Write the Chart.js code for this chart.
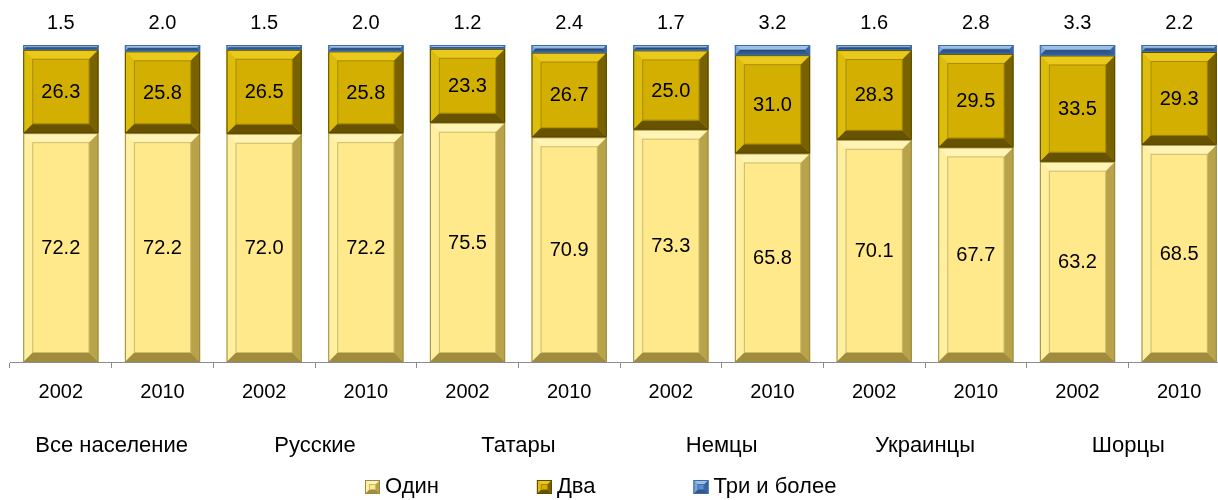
<!DOCTYPE html>
<html>
<head>
<meta charset="utf-8">
<script src="https://cdn.jsdelivr.net/npm/chart.js@4"></script>
<style>
  html, body { margin: 0; padding: 0; background: #fff; overflow: hidden; }
  #wrap { width: 1232px; height: 500px; }
</style>
</head>
<body>
<div id="wrap"><canvas id="chart"></canvas></div>
<script>
// годы переписи и группы населения
const years = ['2002', '2010', '2002', '2010', '2002', '2010', '2002', '2010', '2002', '2010', '2002', '2010'];
const groups = ['Все население', 'Русские', 'Татары', 'Немцы', 'Украинцы', 'Шорцы'];

// доли, %
const odin = [72.2, 72.2, 72.0, 72.2, 75.5, 70.9, 73.3, 65.8, 70.1, 67.7, 63.2, 68.5];
const dva = [26.3, 25.8, 26.5, 25.8, 23.3, 26.7, 25.0, 31.0, 28.3, 29.5, 33.5, 29.3];
const tri = [1.5, 2.0, 1.5, 2.0, 1.2, 2.4, 1.7, 3.2, 1.6, 2.8, 3.3, 2.2];

const seriesNames = ['Один', 'Два', 'Три и более'];

const FONT = '"Liberation Sans", Arial, sans-serif';

const palettes = [
  { face: '#FFE98A', top: '#FFF4B4', left: '#FFEFA0', right: '#B8A24A', bottom: '#A08C3A', edge: '#9A8A48' },
  { face: '#D2AF00', top: '#E9CA1C', left: '#DDBD0C', right: '#786200', bottom: '#665200', edge: '#5A4800' },
  { face: '#5B8DD0', top: '#9CC0EA', left: '#7AA6DB', right: '#3464A0', bottom: '#2E5890', edge: '#3F6CA6' }
];

function bevelBox(ctx, l, t, r, b, p, size) {
  const s = Math.max(0, Math.min(size, (b - t) / 2, (r - l) / 2));
  const poly = (pts, c) => {
    ctx.beginPath();
    ctx.moveTo(pts[0], pts[1]);
    for (let i = 2; i < pts.length; i += 2) ctx.lineTo(pts[i], pts[i + 1]);
    ctx.closePath();
    ctx.fillStyle = c;
    ctx.fill();
  };
  ctx.fillStyle = p.face;
  ctx.fillRect(l, t, r - l, b - t);
  poly([l, t, r, t, r - s, t + s, l + s, t + s], p.top);
  poly([l, t, l + s, t + s, l + s, b - s, l, b], p.left);
  poly([r, t, r, b, r - s, b - s, r - s, t + s], p.right);
  poly([l, b, r, b, r - s, b - s, l + s, b - s], p.bottom);
  if (s > 2) {
    ctx.strokeStyle = 'rgba(0,0,0,0.2)';
    ctx.lineWidth = 1;
    ctx.strokeRect(l + s + 0.5, t + s + 0.5, r - l - 2 * s - 1, b - t - 2 * s - 1);
  }
  ctx.strokeStyle = p.edge;
  ctx.lineWidth = 1;
  ctx.strokeRect(l + 0.5, t + 0.5, r - l - 1, b - t - 1);
}

// объёмные прямоугольники + подписи значений
const bevelPlugin = {
  id: 'bevel',
  afterDatasetsDraw(chart) {
    const ctx = chart.ctx;
    ctx.save();
    chart.data.datasets.forEach((ds, i) => {
      chart.getDatasetMeta(i).data.forEach(bar => {
        const { x, y, base, width } = bar.getProps(['x', 'y', 'base', 'width'], true);
        bevelBox(ctx, x - width / 2, Math.min(y, base), x + width / 2, Math.max(y, base), palettes[i], 9);
      });
    });
    ctx.fillStyle = '#000';
    ctx.font = '20px ' + FONT;
    ctx.textAlign = 'center';
    ctx.textBaseline = 'middle';
    chart.data.datasets.forEach((ds, i) => {
      chart.getDatasetMeta(i).data.forEach((bar, j) => {
        const { x, y, base } = bar.getProps(['x', 'y', 'base'], true);
        const txt = ds.data[j].toFixed(1);
        if (i < 2) ctx.fillText(txt, x, (y + base) / 2 + 1);
        else ctx.fillText(txt, x, Math.min(y, base) - 22);
      });
    });
    ctx.restore();
  }
};

// легенда внизу
const legendPlugin = {
  id: 'bottomLegend',
  afterDraw(chart) {
    const ctx = chart.ctx;
    ctx.save();
    ctx.font = '22px ' + FONT;
    ctx.textBaseline = 'middle';
    ctx.textAlign = 'left';
    let x = 365;
    const yc = 487;
    seriesNames.forEach((name, i) => {
      bevelBox(ctx, x, yc - 7, x + 15, yc + 7, palettes[i], 4);
      ctx.fillStyle = '#000';
      ctx.fillText(name, x + 20, yc);
      x += 20 + ctx.measureText(name).width + 98;
    });
    ctx.restore();
  }
};

const ctx = document.getElementById('chart').getContext('2d');

new Chart(ctx, {
  type: 'bar',
  data: {
    labels: years,
    datasets: [
      { label: seriesNames[0], data: odin, backgroundColor: palettes[0].face },
      { label: seriesNames[1], data: dva, backgroundColor: palettes[1].face },
      { label: seriesNames[2], data: tri, backgroundColor: palettes[2].face }
    ]
  },
  options: {
    responsive: true,
    maintainAspectRatio: false,
    animation: false,
    layout: { padding: { top: 45, left: 10, right: 2, bottom: 42 } },
    datasets: { bar: { categoryPercentage: 1, barPercentage: 0.74 } },
    plugins: { legend: { display: false }, tooltip: { enabled: false } },
    scales: {
      x: {
        stacked: true,
        weight: 1,
        grid: { display: true, drawOnChartArea: false, drawTicks: true, tickLength: 6, color: '#8c8c8c', offset: true },
        border: { display: true, color: '#8c8c8c' },
        ticks: { color: '#000', font: { family: FONT, size: 20 }, padding: 12, maxRotation: 0, autoSkip: false },
        afterFit(scale) { scale.height = 48; }
      },
      x2: {
        type: 'category',
        labels: groups,
        position: 'bottom',
        weight: 2,
        offset: true,
        grid: { display: false },
        border: { display: false },
        ticks: { color: '#000', font: { family: FONT, size: 22 }, padding: 15, maxRotation: 0, autoSkip: false },
        afterFit(scale) { scale.height = 48; }
      },
      y: {
        stacked: true,
        display: false,
        min: 0,
        max: 100
      }
    }
  },
  plugins: [bevelPlugin, legendPlugin]
});
</script>
</body>
</html>
